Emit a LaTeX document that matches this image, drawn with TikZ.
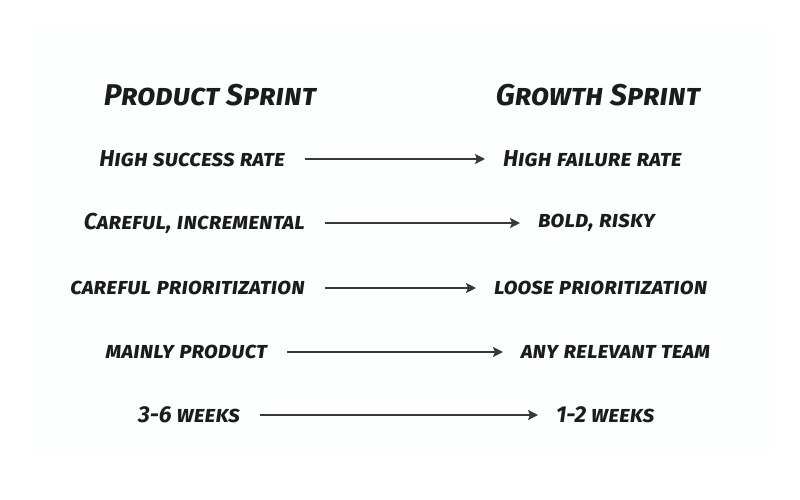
\documentclass[tikz,border=0pt]{standalone}
\usepackage{fontspec}
\setmainfont{Fira Sans}
\usetikzlibrary{arrows.meta}
\definecolor{ink}{HTML}{1C1C1C}
\definecolor{arrowgray}{HTML}{383838}
\definecolor{panel}{HTML}{FDFEFE}
\tikzset{
  head/.style={font=\fontsize{30}{34}\selectfont\bfseries\itshape\scshape, text=ink, inner sep=0pt},
  lab/.style={font=\fontsize{23}{27}\selectfont\bfseries\itshape\scshape, text=ink, inner sep=0pt},
  lft/.style={lab, anchor=east, outer sep=20pt},
  rgt/.style={lab, anchor=west, outer sep=18pt},
  arr/.style={draw=arrowgray, line width=1.6pt, -{Stealth[length=10pt,width=10pt,inset=2pt]}},
}
\begin{document}
\begin{tikzpicture}[x=1pt,y=-1pt]
\useasboundingbox (0,0) rectangle (800,500);
\fill[white] (0,0) rectangle (800,500);
\fill[panel] (31,30) rectangle (777,450);
\node[head] (h1) at (210,95) {Product Sprint};
\node[head] (h2) at (598,95) {Growth Sprint};
\node[lft] (l1) at (305,159) {High success rate};
\node[rgt] (r1) at (485,159) {High failure rate};
\node[lft] (l2) at (325,223) {Careful, incremental};
\node[rgt] (r2) at (520,223) {bold, risky};
\node[lft] (l3) at (325,288) {careful prioritization};
\node[rgt] (r3) at (476,288) {loose prioritization};
\node[lft] (l4) at (287,352) {mainly product};
\node[rgt] (r4) at (503,352) {any relevant team};
\node[lft] (l5) at (260,415) {3-6 weeks};
\node[rgt] (r5) at (538,415) {1-2 weeks};
\draw[arr] (l1) -- (r1);
\draw[arr] (l2) -- (r2);
\draw[arr] (l3) -- (r3);
\draw[arr] (l4) -- (r4);
\draw[arr] (l5) -- (r5);
\end{tikzpicture}
\end{document}
